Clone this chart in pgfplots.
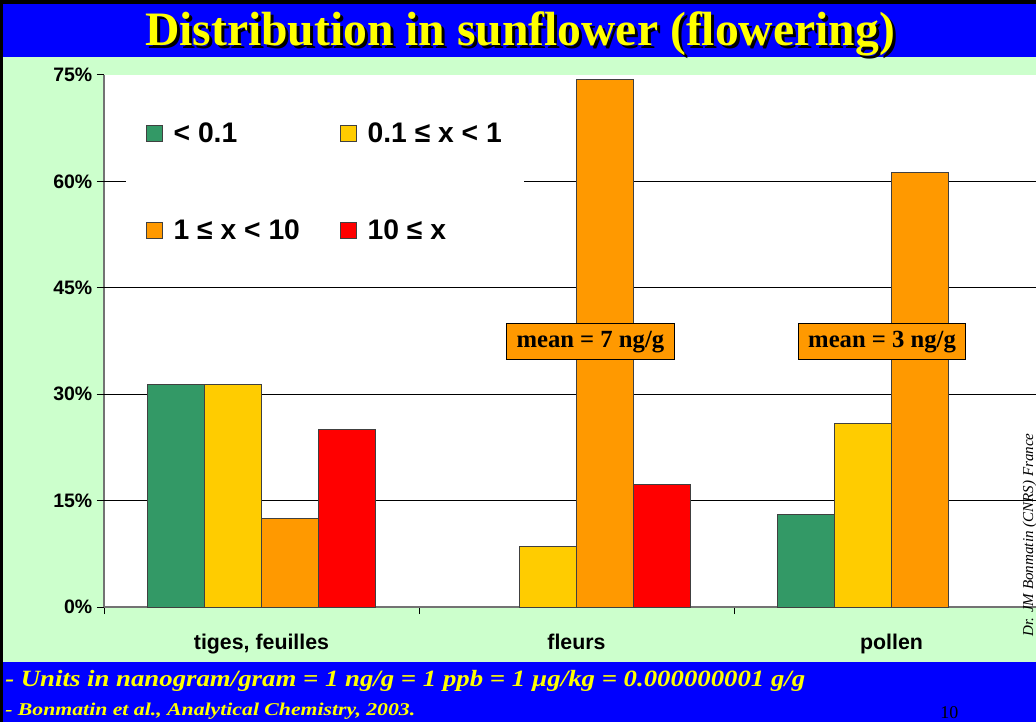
\documentclass[border=0pt]{standalone}
\usepackage{pgfplots}
\pgfplotsset{compat=1.18}
\usepackage{fontspec}
\setmainfont{Liberation Serif}
\newfontfamily\arial{Liberation Sans}
\definecolor{slideblue}{HTML}{0000FF}
\definecolor{bggreen}{HTML}{CCFFCC}
\definecolor{tyellow}{HTML}{FFFF00}
\definecolor{cgreen}{HTML}{339966}
\definecolor{cyellow}{HTML}{FFCC00}
\definecolor{corange}{HTML}{FF9900}
\definecolor{cred}{HTML}{FF0000}
\begin{document}
\begin{tikzpicture}[x=0.75pt,y=0.75pt]
\useasboundingbox (0,0) rectangle (1036,722);
\clip (0,0) rectangle (1036,722);
\fill[slideblue] (0,0) rectangle (1036,722);
\fill[bggreen] (0,60) rectangle (1036,665);
\fill[black] (0,0) rectangle (3,722);
\fill[black] (0,718) rectangle (1036,722);
% title
\node[anchor=base, inner sep=0pt, text=black] at (523,673) {\resizebox{562.5pt}{\height}{\bfseries\fontsize{36}{40}\selectfont Distribution in sunflower (flowering)}};
\node[anchor=base, inner sep=0pt, text=tyellow] at (520,676) {\resizebox{562.5pt}{\height}{\bfseries\fontsize{36}{40}\selectfont Distribution in sunflower (flowering)}};
\begin{axis}[
  at={(78pt,86.25pt)}, anchor=south west,
  scale only axis, width=708.75pt, height=399pt,
  xmin=-0.5, xmax=2.5, ymin=0, ymax=75,
  axis background/.style={fill=white},
  separate axis lines,
  axis x line*=bottom, axis y line*=left,
  axis line style={draw=black!55, line width=0.9pt, -},
  tick align=outside,
  major tick length=5.25pt,
  tick style={draw=black, line width=0.75pt},
  ytick={0,15,30,45,60,75},
  yticklabel={\pgfmathprintnumber{\tick}\%},
  yticklabel style={font=\arial\bfseries\fontsize{14.6}{16}\selectfont},
  /pgf/number format/assume math mode=true,
  extra y ticks={15,30,45,60},
  extra y tick labels={},
  extra y tick style={grid=major, major grid style={draw=black, line width=0.75pt}},
  xtick={-0.5,0.5,1.5,2.5},
  xticklabels={},
  extra x ticks={0,1,2},
  extra x tick labels={{tiges, feuilles},fleurs,pollen},
  extra x tick style={major tick length=0pt, xticklabel style={font=\arial\bfseries\fontsize{16}{18}\selectfont, yshift=-17pt}},
  ybar=0pt, bar width=42.75pt,
  legend columns=2,
  legend cell align={left},
  legend image code/.code={\draw[#1, line width=0.75pt] (0pt,-6pt) rectangle (12pt,6pt);},
  legend style={at={(0.023,0.953)}, anchor=north west, draw=none, fill=white,
    font=\arial\bfseries\fontsize{21.2}{24}\selectfont, row sep=52pt, inner sep=15pt,
    /tikz/every odd column/.append style={column sep=6pt},
    /tikz/every even column/.append style={column sep=28pt}},
]
\addplot[fill=cgreen, draw=black!75, line width=0.75pt] coordinates {(0,31.3) (2,13.0)};
\addplot[fill=cyellow, draw=black!75, line width=0.75pt] coordinates {(0,31.3) (1,8.5) (2,25.9)};
\addplot[fill=corange, draw=black!75, line width=0.75pt] coordinates {(0,12.5) (1,74.3) (2,61.3)};
\addplot[fill=cred, draw=black!75, line width=0.75pt] coordinates {(0,25.0) (1,17.2)};
\legend{{< 0.1},{0.1 ≤ x < 1},{1 ≤ x < 10},{10 ≤ x}}
\node[fill=corange, draw=black, line width=0.75pt, font=\bfseries\fontsize{18.5}{20}\selectfont, minimum width=126pt, minimum height=27pt, inner sep=0pt] at (axis cs:1.044,37.4) {mean = 7 ng/g};
\node[fill=corange, draw=black, line width=0.75pt, font=\bfseries\fontsize{18.5}{20}\selectfont, minimum width=125pt, minimum height=27pt, inner sep=0pt] at (axis cs:1.97,37.4) {mean = 3 ng/g};
\end{axis}
\node[rotate=90, anchor=base, inner sep=0pt, font=\itshape\fontsize{11.3}{12}\selectfont] at (1033,187) {Dr. JM Bonmatin (CNRS) France};
\node[anchor=base west, inner sep=0pt, text=tyellow] at (5,36) {\resizebox{600pt}{\height}{\bfseries\itshape\fontsize{17.5}{20}\selectfont - Units in nanogram/gram = 1 ng/g = 1 ppb = 1 µg/kg = 0.000000001 g/g}};
\node[anchor=base west, inner sep=0pt, text=tyellow] at (5,7) {\resizebox{307.5pt}{\height}{\bfseries\itshape\fontsize{13.5}{15}\selectfont - Bonmatin et al., Analytical Chemistry, 2003.}};
\node[anchor=base west, inner sep=0pt, font=\fontsize{13.5}{15}\selectfont] at (940,4) {10};
\end{tikzpicture}
\end{document}
